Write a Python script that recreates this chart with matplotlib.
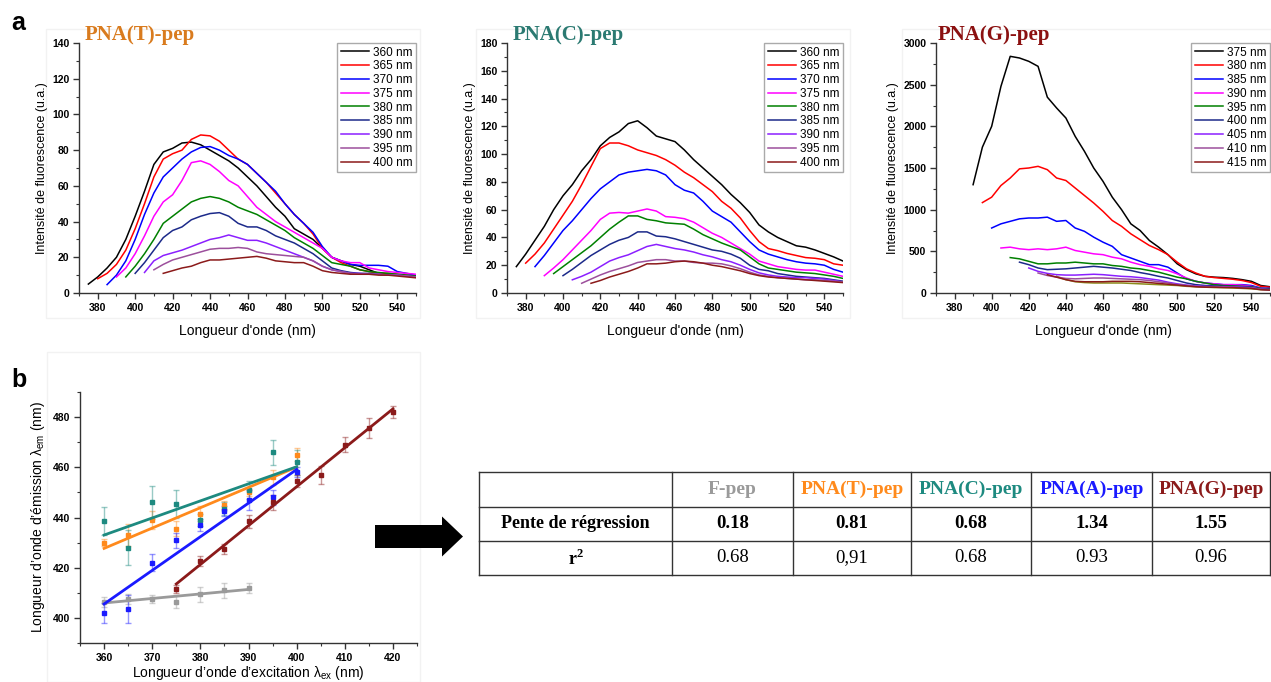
import numpy as np
import matplotlib
matplotlib.use("Agg")
import matplotlib.pyplot as plt
import matplotlib.patches as mpatches
from matplotlib.ticker import MultipleLocator
import matplotlib.colors as mcolors

plt.rcParams['font.family'] = ['Liberation Sans', 'DejaVu Sans']
plt.rcParams['mathtext.fontset'] = 'custom'
plt.rcParams['mathtext.rm'] = 'Liberation Sans'
plt.rcParams['mathtext.it'] = 'Liberation Sans:italic'

# -------------------
# Panel a data (emission spectra, 5 nm steps from the start wavelength)
# -------------------
spec_colors = ['#000000', '#ff0000', '#0000ff', '#ff00ff', '#008000',
               '#1c2a8a', '#8b1fff', '#9c4f9c', '#8b1a1a']

t_labels = ['360 nm', '365 nm', '370 nm', '375 nm', '380 nm',
            '385 nm', '390 nm', '395 nm', '400 nm']
t_starts = [375, 380, 385, 390, 395, 400, 405, 410, 415]
t_360 = [5, 9, 14, 20, 30, 43, 57, 72, 79, 81, 84, 84.5, 83, 80, 77, 74, 70, 65, 60, 54,
         48, 43, 36, 33, 30, 25, 20, 18, 16, 15, 13, 11, 10.5, 10, 9.5, 9]
t_365 = [8, 11, 16, 24, 36, 50, 65, 75, 78, 80, 86, 88.5, 88, 85, 80, 75, 72, 67, 62, 56,
         50, 44, 39, 33, 25, 20, 17, 15, 13, 12, 11, 11, 10.5, 10, 9.5]
t_370 = [4.7, 10, 18, 30, 44, 56, 65, 70, 75, 79, 81.5, 82, 80, 77, 75, 72, 67, 62, 57, 50,
         44, 39, 34, 26, 20, 18, 16, 15.5, 15.5, 15.5, 15, 12, 11, 10]
t_375 = [9, 14, 22, 32, 43, 51, 55, 63, 73, 74, 72, 68, 63, 60, 54, 48, 44, 40, 37, 34,
         31, 28, 25, 20, 18, 17, 17, 14, 13, 12, 11.5, 11, 10.5]
t_380 = [9, 15, 22, 30, 39, 43, 47, 51, 53, 54, 53, 51, 48, 46, 44, 41, 38, 35, 31, 28,
         25, 21, 17, 16, 15, 13, 12, 11.5, 11, 10.5, 10, 9.5]
t_385 = [11, 17, 24, 31, 35, 37, 41, 43, 44.5, 45, 43, 39, 37, 37, 35, 32, 30, 28, 25, 22,
         18, 14, 12.5, 11.5, 11, 11, 10.5, 10, 10, 9.5, 9]
t_390 = [11.5, 18, 21, 22.5, 24, 26, 28, 30, 31, 32.5, 31, 29.5, 29.5, 28, 26, 24, 22, 20,
         18, 15, 13, 12, 11, 11, 10.5, 10.5, 10, 10, 9.5, 9]
t_395 = [13, 16, 18.5, 20, 21.5, 23, 24.5, 25, 25, 25.5, 25, 23, 22, 21.5, 21, 20.5, 20,
         18, 15, 13, 12, 11, 10.5, 10.5, 10.5, 10, 10, 9.5, 9]
t_400 = [11, 12.5, 14, 15, 17, 18.5, 18.5, 19, 19.5, 20, 20.5, 19.5, 18, 17.5, 17, 17, 15,
         12.5, 11.5, 11, 10.5, 10.5, 10.5, 10, 10, 9.5, 9, 8.5]

c_labels = t_labels
c_starts = t_starts
c_360 = [19, 28, 38, 48, 60, 70, 78, 88, 96, 106, 112, 116, 122, 124, 119, 113, 111, 109,
         103, 96, 90, 84, 78, 71, 65, 58, 49, 44, 40, 37, 34, 33, 31, 28.5, 26, 23]
c_365 = [21.5, 28, 36, 46, 56, 66, 78, 91, 104, 108, 108, 106, 103, 101, 99, 96, 92, 87,
         83, 78, 73, 66, 61, 54, 45, 37, 32, 30.5, 28.5, 27, 25.5, 25, 24, 21, 20]
c_370 = [19, 27, 36, 45, 52, 60, 68, 75, 80, 85, 87, 88, 89, 88, 85, 78, 74, 72, 66, 59,
         55, 51, 44, 37, 31, 28, 26, 24, 22.5, 21.5, 21, 20, 17, 15]
c_375 = [12.5, 18, 24, 31, 38, 45, 53, 57.5, 58, 57.5, 59, 60.5, 59, 55, 54.5, 53.5, 51,
         47, 43, 40, 36, 32, 28, 23, 21, 19, 18, 17, 16.5, 16.5, 15, 13.5, 12]
c_380 = [14, 19, 24, 29, 34, 40, 46, 51, 55.5, 55.5, 53, 52, 50.5, 50, 49.5, 46, 42, 39,
         36, 33.5, 31, 26, 21, 18, 17, 16, 15, 14.5, 14, 13, 12, 10.5]
c_385 = [12.5, 17, 22, 27, 31, 35, 38, 40, 44, 44, 41, 40.5, 39, 37, 35, 33, 31, 30, 28,
         25, 20, 17, 16, 14, 13, 12, 11.5, 11, 10.5, 9.5, 8.5]
c_390 = [9.5, 12, 15, 19, 23, 25.5, 27.5, 30.5, 33.5, 35, 33.5, 32, 31, 29.5, 27.5, 26,
         24, 22.5, 20, 17, 14.5, 13, 12, 11.5, 11, 11, 10.5, 10, 9, 8]
c_395 = [7, 10, 13, 15.5, 17.5, 19.5, 22, 23, 24, 24, 23, 23, 22, 21.5, 21.5, 21, 19.5,
         17.5, 15, 13, 12, 11, 10.5, 10, 9.5, 9.5, 9, 8.5, 8]
c_400 = [7, 9, 11.5, 13.5, 15.5, 18, 21, 21, 21.5, 22.5, 23, 22.5, 21.5, 20, 19, 17.5, 16,
         14, 12.5, 11.5, 11, 10.5, 10, 9.5, 9, 8.5, 8, 7.5]

g_labels = ['375 nm', '380 nm', '385 nm', '390 nm', '395 nm',
            '400 nm', '405 nm', '410 nm', '415 nm']
g_starts = [390, 395, 400, 405, 410, 415, 420, 425, 430]
g_375 = [1300, 1750, 2000, 2480, 2840, 2820, 2780, 2720, 2350, 2220, 2100, 1880, 1700,
         1500, 1340, 1150, 1000, 830, 750, 630, 550, 460, 350, 280, 230, 200, 190, 185,
         175, 160, 140, 90, 75]
g_380 = [1085, 1150, 1290, 1380, 1490, 1500, 1520, 1480, 1380, 1350, 1260, 1170, 1080,
         980, 870, 800, 710, 640, 570, 520, 460, 370, 290, 240, 200, 185, 175, 165, 150,
         125, 80, 70]
g_385 = [780, 830, 860, 890, 900, 900, 910, 860, 870, 780, 740, 670, 610, 560, 460, 420,
         380, 340, 340, 310, 240, 170, 140, 120, 110, 100, 100, 100, 90, 60, 55]
g_390 = [540, 550, 530, 520, 530, 520, 530, 550, 510, 490, 470, 460, 430, 410, 370, 340,
         320, 290, 270, 230, 180, 140, 120, 110, 100, 100, 95, 80, 55, 50]
g_395 = [425, 410, 380, 350, 350, 360, 360, 370, 360, 350, 350, 330, 320, 300, 290, 270,
         250, 220, 190, 170, 140, 120, 100, 90, 85, 80, 75, 55, 50]
g_400 = [370, 340, 300, 280, 285, 290, 300, 310, 320, 310, 300, 285, 270, 245, 225, 200,
         180, 150, 120, 100, 90, 85, 80, 80, 75, 70, 50, 45]
g_405 = [300, 260, 235, 220, 215, 215, 220, 225, 220, 210, 200, 195, 185, 170, 155, 130,
         110, 95, 85, 80, 75, 75, 70, 70, 65, 45, 40]
g_410 = [240, 210, 190, 175, 170, 175, 180, 180, 175, 170, 165, 160, 150, 135, 120, 100,
         90, 80, 75, 75, 70, 70, 65, 60, 45, 40]
g_415 = [220, 190, 160, 140, 135, 135, 135, 140, 140, 140, 135, 125, 115, 105, 95, 85, 75,
         70, 70, 65, 65, 60, 55, 40, 35]
g_extra_start = 435
g_extra = [200, 160, 135, 125, 120, 120, 120, 120, 115, 110, 105, 100, 95, 90, 80, 75, 70,
           65, 65, 60, 55, 50, 40, 35]

# -------------------
# Panel b data (excitation vs emission maxima)
# -------------------
f_x = [360, 365, 370, 375, 380, 385, 390]
f_y = [406.5, 407.5, 407.5, 406.5, 409.5, 411, 412]
f_e = [2, 2, 1.5, 2.5, 3, 3, 2]
t_x = [360, 365, 370, 375, 380, 385, 390, 395, 400]
t_y = [430, 433, 439, 435.5, 441.5, 445, 450, 456, 465]
t_e = [1.5, 4.5, 3.5, 3, 3, 1.5, 1.5, 3, 2.5]
c_x = [360, 365, 370, 375, 380, 385, 390, 395, 400]
c_y = [438.5, 428, 446, 445.5, 439, 443.5, 451, 466, 462]
c_e = [5.5, 7, 6.5, 5.5, 2.5, 2.5, 3.5, 5, 5]
a_x = [360, 365, 370, 375, 380, 385, 390, 395, 400]
a_y = [402, 403.5, 422, 431, 437, 442.5, 447, 448, 458]
a_e = [4, 5.5, 3.5, 3, 2.5, 2, 4, 3, 2]
g_x = [375, 380, 385, 390, 395, 400, 405, 410, 415, 420]
g_y = [411.5, 422.5, 427.5, 438.5, 446, 454.5, 457, 469, 475.5, 482]
g_e = [1.5, 2, 2, 2.5, 3, 2.5, 3.5, 3, 4, 2.5]

# table
peptides = ['F-pep', 'PNA(T)-pep', 'PNA(C)-pep', 'PNA(A)-pep', 'PNA(G)-pep']
pep_colors = ['#9a9a9a', '#ff8a1c', '#1d8a80', '#1a1aff', '#8b1a1a']
slopes = [0.18, 0.81, 0.68, 1.34, 1.55]
slope_txt = ['0.18', '0.81', '0.68', '1.34', '1.55']
r2_txt = ['0.68', '0,91', '0.68', '0.93', '0.96']

W, H = 1271, 682
fig = plt.figure(figsize=(W / 100, H / 100), dpi=100)

# overlay in pixel coordinates for labels, arrow and table
ov = fig.add_axes([0, 0, 1, 1])
ov.set_xlim(0, W)
ov.set_ylim(H, 0)
ov.axis('off')

# faint frames of the original sub-images
for (x0, y0, x1, y1) in [(46, 29, 420, 318), (476, 29, 850, 318), (902, 29, 1271, 318),
                         (47, 352, 420, 682)]:
    ov.add_patch(mpatches.Rectangle((x0, y0), x1 - x0, y1 - y0, fill=False,
                                    edgecolor='#f2f2f2', lw=1))

ov.text(11, 30, 'a', fontsize=18, fontweight='bold', va='baseline')
ov.text(11, 387, 'b', fontsize=18, fontweight='bold', va='baseline')


def style_axis(ax):
    ax.patch.set_visible(False)
    for s in ['top', 'right']:
        ax.spines[s].set_visible(False)
    for s in ['left', 'bottom']:
        ax.spines[s].set_linewidth(1.0)
        ax.spines[s].set_color('#333333')
    ax.tick_params(which='major', direction='out', length=4, width=1, labelsize=7.5,
                   color='#333333', pad=3)
    ax.tick_params(which='minor', direction='out', length=2, width=0.8, color='#333333')
    for lab in ax.get_xticklabels() + ax.get_yticklabels():
        lab.set_fontweight('bold')


def spectra_panel(rect, curves, starts, labels, ymax, ymaj, title, tcolor, tx):
    ax = fig.add_axes(rect)
    for vals, st, lab, col in zip(curves, starts, labels, spec_colors):
        x = st + 5 * np.arange(len(vals))
        ax.plot(x, vals, color=col, lw=1.1, label=lab)
    ax.set_xlim(370, 550)
    ax.set_ylim(0, ymax)
    ax.xaxis.set_major_locator(MultipleLocator(20))
    ax.xaxis.set_minor_locator(MultipleLocator(10))
    ax.yaxis.set_major_locator(MultipleLocator(ymaj))
    ax.yaxis.set_minor_locator(MultipleLocator(ymaj / 2))
    ax.set_xlabel("Longueur d'onde (nm)", fontsize=10, labelpad=8)
    ax.set_ylabel("Intensité de fluorescence (u.a.)", fontsize=9, labelpad=3)
    style_axis(ax)
    leg = ax.legend(loc='upper right', fontsize=8.5, fancybox=False, edgecolor='#aaaaaa',
                    framealpha=1, handlelength=2.4, labelspacing=0.15, borderpad=0.3,
                    borderaxespad=0.0, handletextpad=0.3)
    leg.get_frame().set_linewidth(1.0)
    ov.text(tx, 40, title, family='Liberation Serif', fontweight='bold', fontsize=15,
            color=tcolor, va='baseline')
    return ax


ax1 = spectra_panel([79 / W, 1 - 293 / H, 337 / W, 250 / H],
                    [t_360, t_365, t_370, t_375, t_380, t_385, t_390, t_395, t_400],
                    t_starts, t_labels, 140, 20, 'PNA(T)-pep', '#d97b1e', 85)
ax2 = spectra_panel([507 / W, 1 - 293 / H, 336 / W, 250 / H],
                    [c_360, c_365, c_370, c_375, c_380, c_385, c_390, c_395, c_400],
                    c_starts, c_labels, 180, 20, 'PNA(C)-pep', '#2b7a72', 513)
ax3 = spectra_panel([936 / W, 1 - 293 / H, 334 / W, 250 / H],
                    [g_375, g_380, g_385, g_390, g_395, g_400, g_405, g_410, g_415],
                    g_starts, g_labels, 3000, 500, 'PNA(G)-pep', '#8b1010', 938)
ax3.plot(g_extra_start + 5 * np.arange(len(g_extra)), g_extra, color='#8c8c1a', lw=1.1,
         zorder=1.5)

# -------------------
# Panel b
# -------------------
axb = fig.add_axes([80 / W, 1 - 643 / H, 337 / W, 251 / H])
series_b = [(f_x, f_y, f_e), (t_x, t_y, t_e), (c_x, c_y, c_e), (a_x, a_y, a_e), (g_x, g_y, g_e)]
for (x, y, e), col, slope in zip(series_b, pep_colors, slopes):
    x = np.array(x, dtype=float)
    y = np.array(y, dtype=float)
    axb.errorbar(x, y, yerr=e, fmt='s', ms=3, color=col, ecolor=mcolors.to_rgba(col, 0.45),
                 elinewidth=1, capsize=2.5, capthick=1, zorder=2)
    xs = np.array([x.min(), x.max()])
    axb.plot(xs, y.mean() + slope * (xs - x.mean()), color=col, lw=2, zorder=3)

axb.set_xlim(355, 425)
axb.set_ylim(390, 490)
axb.xaxis.set_major_locator(MultipleLocator(10))
axb.xaxis.set_minor_locator(MultipleLocator(5))
axb.yaxis.set_major_locator(MultipleLocator(20))
axb.yaxis.set_minor_locator(MultipleLocator(10))
axb.set_xlabel(r"Longueur d’onde d’excitation λ$_{\mathrm{ex}}$ (nm)", fontsize=10, labelpad=1)
axb.set_ylabel(r"Longueur d’onde d’émission λ$_{\mathrm{em}}$ (nm)", fontsize=10, labelpad=4)
style_axis(axb)

# arrow
ov.add_patch(mpatches.FancyArrow(375, 536.5, 88, 0, width=23, head_width=40,
                                 head_length=21, length_includes_head=True,
                                 color='black', lw=0))

# table
col_edges = [479, 672, 793, 911, 1031, 1152, 1270]
row_edges = [472, 507, 541, 575]
for xe in col_edges:
    ov.plot([xe, xe], [row_edges[0], row_edges[-1]], color='#333333', lw=1)
for ye in row_edges:
    ov.plot([col_edges[0], col_edges[-1]], [ye, ye], color='#333333', lw=1)

serif = 'Liberation Serif'
yc = [(row_edges[i] + row_edges[i + 1]) / 2 for i in range(3)]
x0c = (col_edges[0] + col_edges[1]) / 2
ov.text(x0c, yc[1], 'Pente de régression', family=serif,
        fontweight='bold', fontsize=13, ha='center', va='center')
ov.text(x0c + 1, yc[2] + 1, 'r', family=serif, fontweight='bold', fontsize=13,
        ha='right', va='center')
ov.text(x0c + 1, yc[2] - 4, '2', family=serif, fontweight='bold', fontsize=9,
        ha='left', va='center')
for i, (p, pc, s, r) in enumerate(zip(peptides, pep_colors, slope_txt, r2_txt)):
    xc = (col_edges[i + 1] + col_edges[i + 2]) / 2
    ov.text(xc, yc[0], p, family=serif, fontweight='bold', fontsize=14, color=pc,
            ha='center', va='center')
    ov.text(xc, yc[1], s, family=serif, fontweight='bold', fontsize=13.5,
            ha='center', va='center')
    ov.text(xc, yc[2], r, family=serif, fontsize=13.5, ha='center', va='center')

fig.savefig('out.png', dpi=100)
